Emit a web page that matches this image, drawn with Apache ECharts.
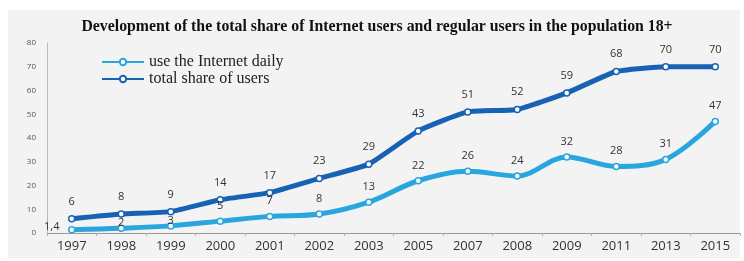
<!DOCTYPE html>
<html>
<head>
<meta charset="utf-8">
<script src="https://cdn.jsdelivr.net/npm/echarts@6/dist/echarts.min.js"></script>
<style>
  html, body { margin: 0; padding: 0; background: #fff; }
  #chart { width: 744px; height: 261px; }
</style>
</head>
<body>
<div id="chart"></div>
<script>
// years on the x axis
const years = ['1997', '1998', '1999', '2000', '2001', '2002', '2003', '2005', '2007', '2008', '2009', '2011', '2013', '2015']
// share of population 18+ (%)
const dailyUsers = [1.4, 2, 3, 5, 7, 8, 13, 22, 26, 24, 32, 28, 31, 47]
const totalUsers = [6, 8, 9, 14, 17, 23, 29, 43, 51, 52, 59, 68, 70, 70]
const yTicks = [0, 10, 20, 30, 40, 50, 60, 70, 80]

let chart = echarts.init(document.getElementById('chart'))

let option = {
  backgroundColor: '#fff',
  animation: false,
  graphic: [{
    type: 'rect', z: -10,
    shape: { x: 8, y: 10, width: 732, height: 248 },
    style: { fill: '#f3f3f3' }
  }],
  title: {
    text: 'Development of the total share of Internet users and regular users in the population 18+',
    left: 372, top: 14, textAlign: 'center',
    textStyle: { fontFamily: 'Liberation Serif', fontSize: 15.8, fontWeight: 'bold', color: '#111' }
  },
  legend: {
    orient: 'vertical', left: 96, top: 49, itemGap: 1,
    itemWidth: 42, itemHeight: 8,
    textStyle: { fontFamily: 'Liberation Serif', fontSize: 16, color: '#222' },
    data: ['use the Internet daily', 'total share of users']
  },
  grid: { left: 47, right: 4, top: 43, bottom: 28 },
  xAxis: {
    type: 'category', data: years, boundaryGap: true,
    axisLine: { lineStyle: { color: '#9a9a9a', width: 1 } },
    axisTick: { show: true, length: 3, lineStyle: { color: '#b0b0b0' } },
    axisLabel: { fontFamily: 'Open Sans', fontSize: 13, color: '#333', margin: 7 }
  },
  yAxis: {
    type: 'value', min: 0, max: 80, interval: 10,
    axisLine: { show: true, lineStyle: { color: '#bbb' } },
    axisTick: { show: false },
    splitLine: { show: false },
    axisLabel: {
      fontFamily: 'Open Sans', fontSize: 8, color: '#555', margin: 11,
      formatter: v => yTicks.includes(v) ? String(v) : ''
    }
  },
  series: [
    {
      name: 'use the Internet daily', type: 'line', data: dailyUsers,
      smooth: 0.35, symbol: 'circle', symbolSize: 6,
      lineStyle: { color: '#2aa6df', width: 5 },
      itemStyle: { color: '#fff', borderColor: '#2aa6df', borderWidth: 1.5 },
      label: {
        show: true, position: 'top', distance: 6,
        fontFamily: 'Open Sans', fontSize: 11, color: '#333',
        formatter: p => String(p.value).replace('.', ',')
      },
      labelLayout: p => p.dataIndex === 0 ? { dx: -20, dy: 12 } : (p.dataIndex < 3 ? { dy: 10 } : {})
    },
    {
      name: 'total share of users', type: 'line', data: totalUsers,
      smooth: 0.15, symbol: 'circle', symbolSize: 6,
      lineStyle: { color: '#1762b5', width: 5 },
      itemStyle: { color: '#fff', borderColor: '#1762b5', borderWidth: 1.5 },
      label: {
        show: true, position: 'top', distance: 8,
        fontFamily: 'Open Sans', fontSize: 11, color: '#333'
      }
    }
  ]
}
chart.setOption(option)
</script>
</body>
</html>
